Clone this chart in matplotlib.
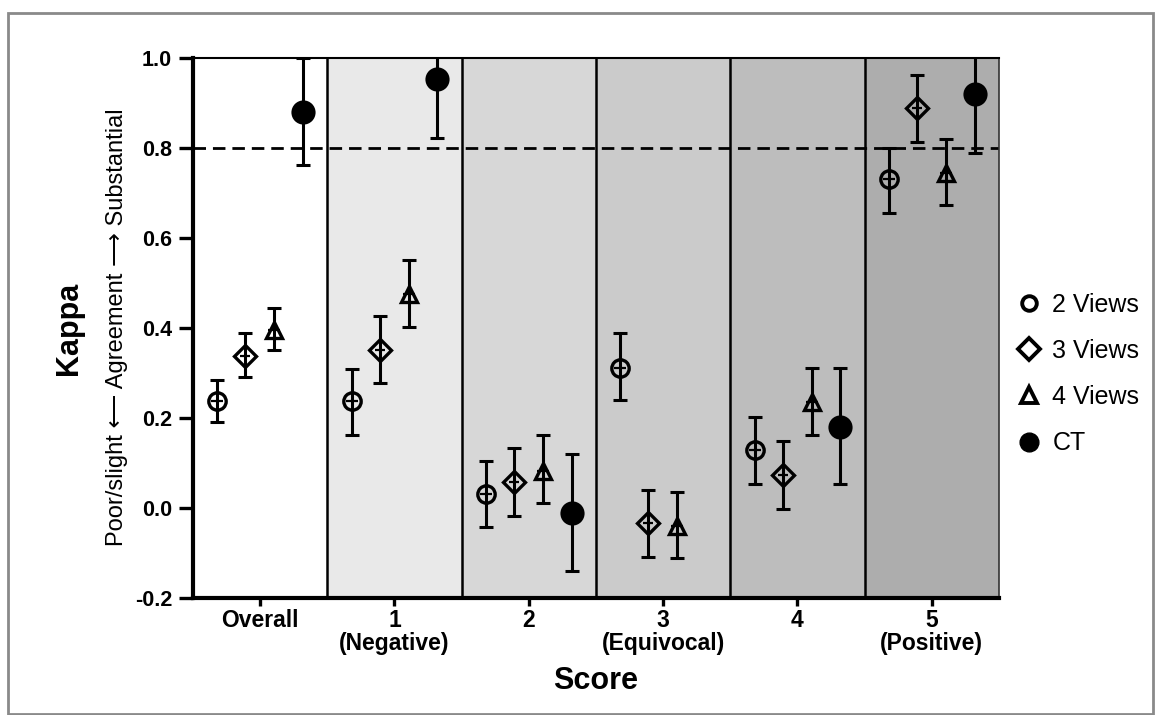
import numpy as np
import matplotlib
matplotlib.use("Agg")
import matplotlib.pyplot as plt
from matplotlib.lines import Line2D
from matplotlib.patches import Rectangle

plt.rcParams['font.family'] = ['Liberation Sans', 'DejaVu Sans']

categories = ["Overall", "1\n(Negative)", "2", "3\n(Equivocal)", "4", "5\n(Positive)"]

kappa_2v = [0.237, 0.237, 0.032, 0.312, 0.128, 0.730]
lo_2v = [0.190, 0.163, -0.042, 0.239, 0.054, 0.656]
hi_2v = [0.285, 0.309, 0.105, 0.388, 0.203, 0.800]

kappa_3v = [0.337, 0.351, 0.057, -0.033, 0.074, 0.889]
lo_3v = [0.290, 0.277, -0.018, -0.109, -0.003, 0.813]
hi_3v = [0.388, 0.426, 0.133, 0.040, 0.148, 0.962]

kappa_4v = [0.395, 0.476, 0.083, -0.040, 0.235, 0.745]
lo_4v = [0.351, 0.403, 0.012, -0.112, 0.162, 0.673]
hi_4v = [0.444, 0.552, 0.162, 0.036, 0.310, 0.820]

# CT has no estimate for score 3
kappa_ct = [0.880, 0.954, -0.012, np.nan, 0.181, 0.921]
lo_ct = [0.763, 0.822, -0.141, np.nan, 0.053, 0.789]
hi_ct = [1.000, 1.060, 0.120, np.nan, 0.311, 1.060]

panel_colors = ["#ffffff", "#e9e9e9", "#d7d7d7", "#cbcbcb", "#bdbdbd", "#adadad"]

fig = plt.figure(figsize=(11.59, 7.15), dpi=100)
ax = fig.add_axes([193 / 1159, 1 - 598 / 715, 806 / 1159, 540 / 715])

x = np.arange(len(categories))
for i, c in enumerate(panel_colors):
    ax.axvspan(i - 0.5, i + 0.5, color=c, zorder=0, lw=0)
for b in x[:-1] + 0.5:
    ax.axvline(b, color="black", lw=1.8, zorder=1)

ax.axhline(0.8, color="black", lw=2, ls=(0, (4.5, 2.5)), zorder=2)

series = [
    (kappa_2v, lo_2v, hi_2v, -0.32, "o", 12.5, "none"),
    (kappa_3v, lo_3v, hi_3v, -0.11, "D", 11, "none"),
    (kappa_4v, lo_4v, hi_4v, 0.105, "^", 12, "none"),
    (kappa_ct, lo_ct, hi_ct, 0.32, "o", 15, "black"),
]
for k, lo, hi, off, mk, ms, fc in series:
    k = np.array(k)
    err = np.vstack([k - np.array(lo), np.array(hi) - k])
    ax.errorbar(x + off, k, yerr=err, fmt="none", ecolor="black",
                elinewidth=2.2, capsize=5, capthick=2.2, zorder=3)
    ax.plot(x + off, k, ls="none", marker=mk, ms=ms, mfc=fc, mec="black",
            mew=2.4, zorder=4)
    if fc == "none":
        ax.plot(x + off, k, ls="none", marker="_", ms=ms * 0.7, mec="black",
                mew=1.6, zorder=4)

ax.set_xlim(-0.5, 5.5)
ax.set_ylim(-0.2, 1.0)
ax.set_yticks([-0.2, 0.0, 0.2, 0.4, 0.6, 0.8, 1.0])
ax.set_yticklabels(["-0.2", "0.0", "0.2", "0.4", "0.6", "0.8", "1.0"],
                   fontsize=15.5, fontweight="bold")
ax.set_xticks(x)
ax.set_xticklabels(categories, linespacing=1.0, fontsize=16.5, fontweight="bold")
ax.tick_params(axis="y", length=10, width=2.4, pad=5)
ax.tick_params(axis="x", length=6, width=2.4, pad=2)

ax.spines["left"].set_linewidth(3)
ax.spines["bottom"].set_linewidth(3)
ax.spines["top"].set_linewidth(1.5)
ax.spines["right"].set_linewidth(1.2)
ax.spines["right"].set_color("#333333")

ax.set_xlabel("Score", fontsize=22, fontweight="bold", labelpad=8)
fig.text(69 / 1159, 1 - 328 / 715, "Kappa", rotation=90, fontsize=22,
         fontweight="bold", ha="center", va="center")
fig.text(117 / 1159, 1 - 327 / 715, "Poor/slight \u27f5 Agreement \u27f6 Substantial",
         rotation=90, fontsize=17, ha="center", va="center")

handles = [
    Line2D([], [], ls="none", marker="o", ms=10.5, mfc="none", mec="black", mew=2.8),
    Line2D([], [], ls="none", marker="D", ms=11, mfc="none", mec="black", mew=2.8),
    Line2D([], [], ls="none", marker="^", ms=12, mfc="none", mec="black", mew=2.8),
    Line2D([], [], ls="none", marker="o", ms=13.5, mfc="black", mec="black"),
]
fig.legend(handles, ["2 Views", "3 Views", "4 Views", "CT"], loc="center left",
           bbox_to_anchor=(1016 / 1159, 1 - 374 / 715), frameon=False,
           fontsize=18, handlelength=1.0, handletextpad=0.45, labelspacing=0.89,
           borderpad=0, borderaxespad=0)

fig.patches.append(Rectangle((8 / 1159, 0.002), 1145 / 1159, 1 - 13 / 715 - 0.002,
                             transform=fig.transFigure, fill=False,
                             ec="#8a8a8a", lw=2))

fig.savefig("out.png", dpi=100)
